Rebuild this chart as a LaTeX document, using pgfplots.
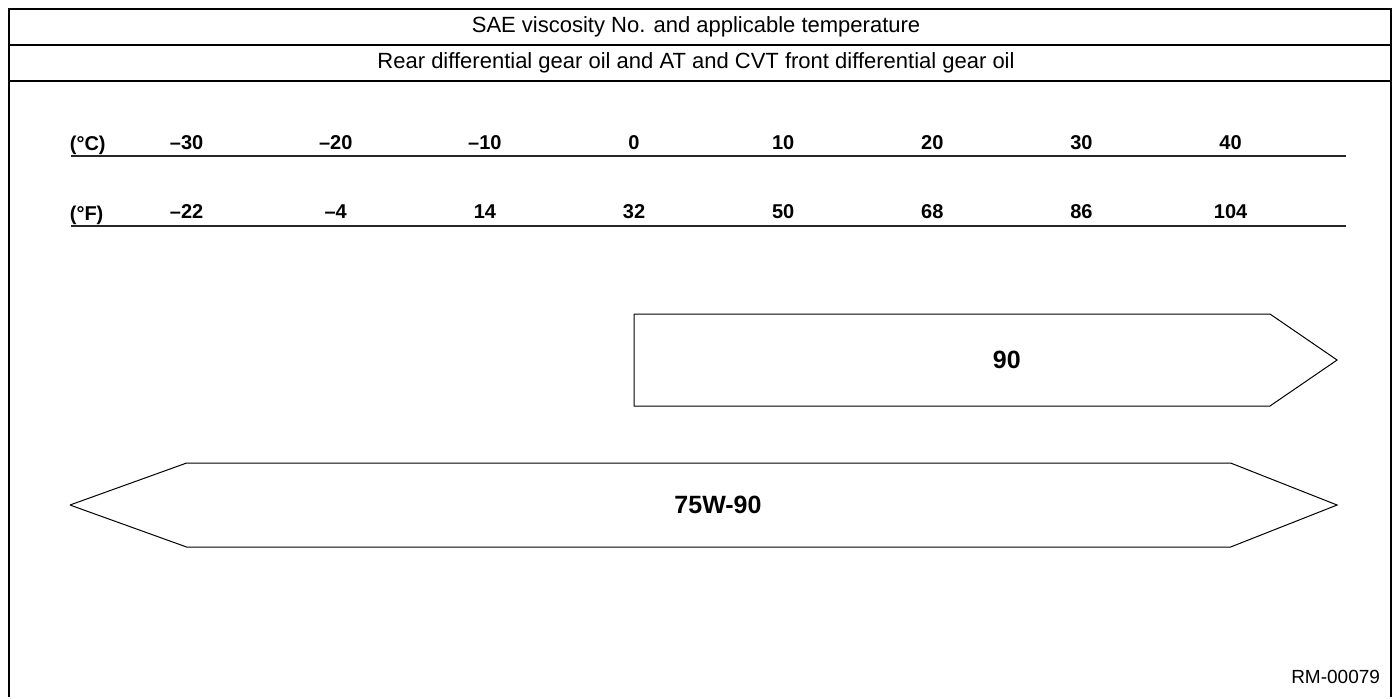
\documentclass[border=0pt]{standalone}
\usepackage{fontspec}
\setmainfont{Liberation Sans}
\usepackage{pgfplots}
\pgfplotsset{compat=1.18}
\begin{document}
\begin{tikzpicture}
\begin{axis}[
  scale only axis, width=696.5pt, height=348.5pt,
  xmin=-42.51, xmax=50.89, ymin=0, ymax=697, y dir=reverse,
  hide axis, clip=false]
% bounding box
\addplot[draw=none] coordinates {(-42.51,0) (50.89,697)};
% frame
\addplot[black, line width=1pt] coordinates {(-41.91,697) (-41.91,9) (50.76,9) (50.76,697)};
\addplot[black, line width=1pt] coordinates {(-41.91,45) (50.76,45)};
\addplot[black, line width=1pt] coordinates {(-41.91,81) (50.76,81)};
% scale lines
\addplot[black!85, line width=0.7pt] coordinates {(-37.75,156) (47.74,156)};
\addplot[black!85, line width=0.7pt] coordinates {(-37.75,226) (47.74,226)};
% arrows
\addplot[black, line width=0.5pt] coordinates {(0,314) (42.64,314) (47.14,360) (42.64,406) (0,406) (0,314)};
\addplot[black, line width=0.5pt] coordinates {(-37.82,505) (-30,463) (40,463) (47.14,505) (40,547) (-30,547) (-37.82,505)};
% headers
\node[font=\fontsize{11}{13}\selectfont] at (axis cs:4.16,27) {SAE viscosity No. and applicable temperature};
\node[font=\fontsize{11}{13}\selectfont] at (axis cs:4.16,63) {Rear differential gear oil and AT and CVT front differential gear oil};
% scale labels
\node[font=\bfseries\fontsize{10}{12}\selectfont, anchor=base west] at (axis cs:-38.3,150) {(°C)};
\node[font=\bfseries\fontsize{10}{12}\selectfont, anchor=base west] at (axis cs:-38.3,220) {(°F)};
\foreach \t/\c/\f in {-30/{--30}/{--22}, -20/{--20}/{--4}, -10/{--10}/{14}, 0/{0}/{32}, 10/{10}/{50}, 20/{20}/{68}, 30/{30}/{86}, 40/{40}/{104}} {
  \edef\temp{\noexpand\node[font=\noexpand\bfseries\noexpand\fontsize{10}{12}\noexpand\selectfont, anchor=base] at (axis cs:\t,149) {\c};
  \noexpand\node[font=\noexpand\bfseries\noexpand\fontsize{10}{12}\noexpand\selectfont, anchor=base] at (axis cs:\t,218) {\f};}
  \temp
}
% arrow labels
\node[font=\bfseries\fontsize{12.5}{14}\selectfont] at (axis cs:25.0,360) {90};
\node[font=\bfseries\fontsize{12.5}{14}\selectfont] at (axis cs:5.63,505) {75W-90};
\node[font=\fontsize{9.5}{11}\selectfont, anchor=east] at (axis cs:50.49,677) {RM-00079};
\end{axis}
\end{tikzpicture}
\end{document}
